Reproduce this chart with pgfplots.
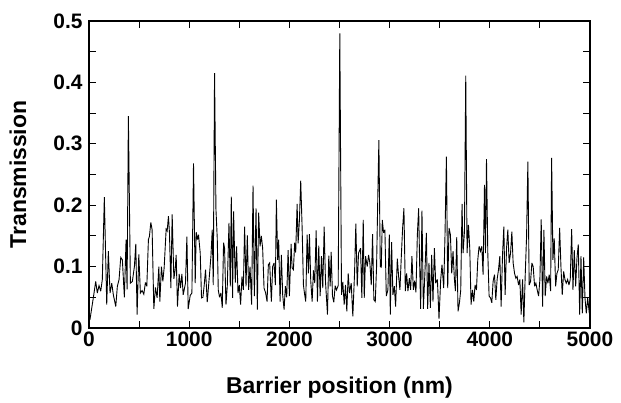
\documentclass[border=0pt]{standalone}
\usepackage{fontspec}
\setmainfont{Liberation Sans}
\usepackage{pgfplots}
\pgfplotsset{compat=1.18}

\begin{document}
\begin{tikzpicture}
\begin{axis}[
  scale only axis,
  width=501bp, height=307bp,
  xmin=0, xmax=5000, ymin=0, ymax=0.5,
  axis line style={line width=1.1bp},
  tick align=inside,
  xtick pos=both, ytick pos=both,
  major tick length=7bp,
  tick style={black, line width=0.9bp},
  xtick={0,500,1000,1500,2000,2500,3000,3500,4000,4500,5000},
  xticklabels={0,,1000,,2000,,3000,,4000,,5000},
  ytick={0,0.05,0.1,0.15,0.2,0.25,0.3,0.35,0.4,0.45,0.5},
  yticklabels={0,,0.1,,0.2,,0.3,,0.4,,0.5},
  /pgf/number format/assume math mode=true,
  ticklabel style={font=\fontsize{21}{25}\selectfont\bfseries},
  yticklabel style={xshift=-3bp},
  label style={font=\fontsize{23}{27}\selectfont\bfseries},
  xlabel={Barrier position (nm)},
  ylabel={Transmission},
  xlabel style={at={(axis description cs:0.5,-0.195)}, anchor=center},
  ylabel style={at={(axis description cs:-0.142,0.5)}, anchor=center},
]
\addplot[black, line width=0.9bp, line join=miter, miter limit=4] coordinates {
(0,0.012) (10,0.014) (43,0.049) (67,0.076) (83,0.057) (100,0.069) (117,0.060) (133,0.079)
(153,0.213) (177,0.038) (193,0.125) (210,0.057) (227,0.073) (243,0.054) (267,0.035) (283,0.068)
(300,0.079) (317,0.115) (333,0.111) (353,0.050) (370,0.144) (380,0.063) (393,0.345) (413,0.073)
(433,0.076) (453,0.100) (467,0.137) (480,0.022) (497,0.120) (513,0.057) (530,0.061) (547,0.055)
(563,0.074) (577,0.068) (593,0.144) (603,0.149) (617,0.172) (630,0.160) (647,0.031) (663,0.066)
(680,0.049) (697,0.100) (707,0.043) (723,0.100) (737,0.076) (750,0.098) (770,0.161) (780,0.158)
(793,0.182) (803,0.155) (817,0.065) (830,0.185) (847,0.080) (860,0.095) (870,0.119) (883,0.035)
(900,0.088) (913,0.065) (927,0.088) (940,0.054) (963,0.073) (977,0.149) (990,0.031) (1010,0.053)
(1027,0.057) (1043,0.268) (1060,0.073) (1070,0.156) (1083,0.144) (1093,0.152) (1110,0.122) (1123,0.049)
(1137,0.050) (1150,0.070) (1163,0.095) (1180,0.042) (1197,0.076) (1217,0.117) (1230,0.160) (1240,0.070)
(1253,0.415) (1267,0.193) (1280,0.146) (1290,0.062) (1303,0.050) (1317,0.057) (1330,0.033) (1343,0.139)
(1353,0.130) (1367,0.038) (1380,0.068) (1397,0.171) (1410,0.068) (1420,0.214) (1433,0.049) (1443,0.190)
(1460,0.074) (1473,0.133) (1487,0.057) (1500,0.070) (1513,0.038) (1527,0.084) (1540,0.062) (1553,0.165)
(1567,0.068) (1580,0.151) (1593,0.062) (1607,0.100) (1623,0.038) (1637,0.232) (1650,0.052) (1667,0.195)
(1680,0.030) (1693,0.188) (1707,0.133) (1720,0.150) (1733,0.130) (1747,0.065) (1763,0.057) (1777,0.043)
(1790,0.103) (1803,0.106) (1820,0.043) (1833,0.100) (1847,0.106) (1860,0.070) (1870,0.209) (1883,0.111)
(1893,0.144) (1907,0.043) (1920,0.119) (1933,0.054) (1947,0.030) (1960,0.068) (1973,0.050) (1987,0.127)
(2000,0.052) (2017,0.137) (2027,0.098) (2040,0.095) (2053,0.139) (2063,0.123) (2077,0.202) (2087,0.138)
(2100,0.176) (2113,0.240) (2127,0.163) (2140,0.070) (2150,0.057) (2163,0.043) (2177,0.152) (2190,0.089)
(2200,0.153) (2213,0.077) (2227,0.043) (2240,0.094) (2253,0.073) (2267,0.159) (2280,0.043) (2293,0.134)
(2307,0.052) (2320,0.117) (2333,0.065) (2347,0.165) (2360,0.076) (2380,0.022) (2393,0.118) (2407,0.068)
(2417,0.124) (2430,0.052) (2443,0.042) (2457,0.069) (2470,0.062) (2487,0.069) (2503,0.480) (2520,0.054)
(2533,0.075) (2547,0.038) (2560,0.070) (2573,0.027) (2587,0.089) (2600,0.057) (2617,0.073) (2633,0.019)
(2650,0.088) (2663,0.170) (2677,0.068) (2690,0.122) (2710,0.130) (2723,0.049) (2737,0.176) (2747,0.049)
(2760,0.117) (2777,0.100) (2790,0.119) (2803,0.106) (2817,0.070) (2830,0.153) (2843,0.046) (2857,0.043)
(2870,0.100) (2883,0.220) (2893,0.306) (2907,0.100) (2917,0.099) (2927,0.176) (2940,0.155) (2953,0.160)
(2967,0.052) (2983,0.062) (2997,0.152) (3007,0.022) (3020,0.140) (3033,0.054) (3047,0.068) (3060,0.035)
(3077,0.113) (3090,0.084) (3103,0.062) (3117,0.117) (3130,0.163) (3143,0.195) (3157,0.060) (3170,0.089)
(3183,0.060) (3197,0.081) (3210,0.062) (3223,0.117) (3237,0.062) (3250,0.077) (3263,0.058) (3277,0.152)
(3290,0.195) (3300,0.103) (3310,0.031) (3323,0.191) (3337,0.031) (3353,0.092) (3367,0.155) (3380,0.031)
(3393,0.106) (3407,0.033) (3420,0.119) (3433,0.043) (3447,0.130) (3460,0.073) (3477,0.079) (3493,0.015)
(3510,0.079) (3523,0.103) (3540,0.065) (3553,0.152) (3567,0.279) (3580,0.065) (3593,0.163) (3607,0.152)
(3620,0.089) (3633,0.125) (3647,0.079) (3657,0.060) (3670,0.148) (3683,0.027) (3697,0.041) (3710,0.062)
(3723,0.202) (3733,0.122) (3747,0.157) (3760,0.411) (3773,0.122) (3787,0.168) (3800,0.130) (3813,0.038)
(3827,0.062) (3840,0.043) (3853,0.070) (3867,0.062) (3880,0.111) (3893,0.133) (3907,0.125) (3920,0.133)
(3933,0.087) (3947,0.233) (3957,0.122) (3967,0.275) (3980,0.122) (3993,0.052) (4007,0.049) (4020,0.041)
(4033,0.076) (4047,0.087) (4060,0.046) (4073,0.079) (4087,0.095) (4100,0.117) (4113,0.035) (4127,0.119)
(4140,0.165) (4153,0.054) (4167,0.130) (4180,0.160) (4193,0.106) (4207,0.122) (4220,0.157) (4233,0.106)
(4247,0.089) (4260,0.081) (4273,0.084) (4287,0.070) (4300,0.079) (4313,0.022) (4327,0.079) (4340,0.009)
(4353,0.084) (4367,0.149) (4380,0.271) (4393,0.070) (4407,0.076) (4420,0.106) (4433,0.100) (4447,0.068)
(4460,0.073) (4473,0.062) (4487,0.052) (4500,0.079) (4513,0.177) (4527,0.035) (4540,0.160) (4553,0.052)
(4567,0.084) (4580,0.073) (4593,0.087) (4607,0.060) (4617,0.277) (4630,0.111) (4643,0.146) (4657,0.068)
(4670,0.089) (4683,0.095) (4697,0.163) (4710,0.100) (4723,0.054) (4737,0.092) (4750,0.079) (4763,0.073)
(4777,0.079) (4790,0.070) (4803,0.079) (4817,0.161) (4830,0.062) (4843,0.127) (4857,0.068) (4870,0.114)
(4883,0.136) (4897,0.022) (4910,0.117) (4923,0.024) (4937,0.115) (4950,0.049) (4963,0.024) (4977,0.049)
(4993,0.024) (5000,0.030)
};
\end{axis}
\pgfresetboundingbox
\path[use as bounding box] ([shift={(-89bp,-75bp)}]current axis.south west) rectangle ([shift={(31bp,21bp)}]current axis.north east);
\end{tikzpicture}
\end{document}
